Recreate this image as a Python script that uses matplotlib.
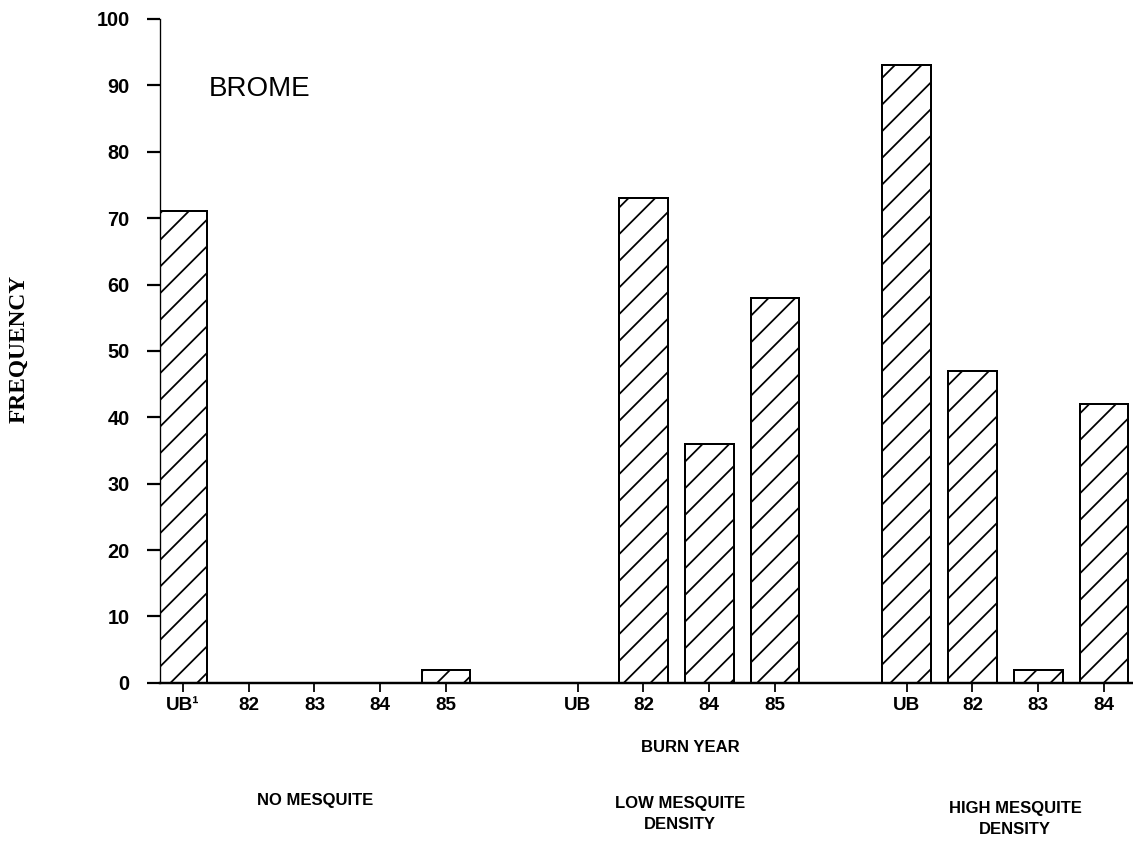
import matplotlib.pyplot as plt
import numpy as np

plt.rcParams['hatch.linewidth'] = 0.8

# burn year categories and brome frequency for each mesquite class
no_years = ['UB\u00b9', '82', '83', '84', '85']
no_freq = [71, 0, 0, 0, 2]
low_years = ['UB', '82', '84', '85']
low_freq = [0, 73, 36, 58]
high_years = ['UB', '82', '83', '84']
high_freq = [93, 47, 2, 42]

group_start = [0, 6, 11]
groups = [(no_years, no_freq), (low_years, low_freq), (high_years, high_freq)]

fig = plt.figure(figsize=(1133 / 160, 844 / 160), dpi=160)
ax = fig.add_axes([0.141, 0.191, 0.859, 0.7865])

xpos = []
labels = []
for start, (yrs, freq) in zip(group_start, groups):
    x = start + np.arange(len(yrs))
    for xi, f in zip(x, freq):
        if f > 0:
            ax.bar(xi, f, width=0.74, color='white', edgecolor='black',
                   linewidth=0.9, hatch='//')
    xpos.extend(x)
    labels.extend(yrs)

ax.set_xlim(-0.35, 14.44)
ax.set_ylim(0, 100)
ax.set_yticks(np.arange(0, 101, 10))
ax.set_xticks(xpos)
ax.set_xticklabels(labels)

for s in ['top', 'right']:
    ax.spines[s].set_visible(False)
ax.spines['left'].set_linewidth(0.6)
ax.spines['bottom'].set_linewidth(1.1)

ax.tick_params(axis='y', length=6, width=1.0, pad=7.5,
               labelsize=9, labelfontfamily='Liberation Sans')
ax.tick_params(axis='x', length=4, width=0.8, pad=2.5,
               labelsize=8.5, labelfontfamily='Liberation Sans')
for t in ax.get_xticklabels() + ax.get_yticklabels():
    t.set_fontweight('bold')

ax.text(0.4, 89.5, 'BROME', fontsize=12.5, family='Liberation Sans',
        va='center', ha='left')

fig.text(18.5 / 1133, 1 - 349 / 844, 'FREQUENCY', rotation=90, fontsize=10.5,
         family='Liberation Serif', fontweight='bold', ha='center', va='center')
fig.text(690 / 1133, 1 - 748 / 844, 'BURN YEAR', fontsize=7.5,
         family='Liberation Sans', fontweight='bold', ha='center', va='center')
fig.text(315 / 1133, 1 - 800 / 844, 'NO MESQUITE', fontsize=7.5,
         family='Liberation Sans', fontweight='bold', ha='center', va='center')
fig.text(680 / 1133, 1 - 814 / 844, 'LOW MESQUITE\nDENSITY', fontsize=7.5,
         family='Liberation Sans', fontweight='bold', ha='center', va='center',
         linespacing=1.5)
fig.text(1015 / 1133, 1 - 819 / 844, 'HIGH MESQUITE\nDENSITY', fontsize=7.5,
         family='Liberation Sans', fontweight='bold', ha='center', va='center',
         linespacing=1.5)

fig.savefig('out.png', dpi=160)
